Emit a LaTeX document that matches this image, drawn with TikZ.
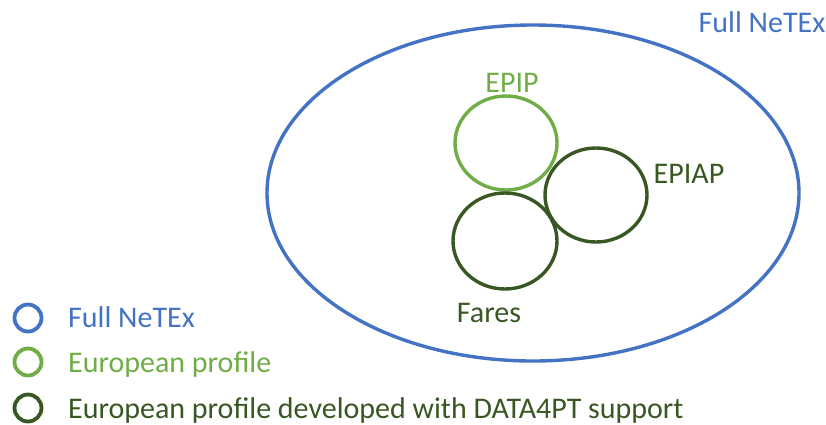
\documentclass[tikz,border=0pt]{standalone}
\usepackage{fontspec}
\setmainfont{Carlito}
\usepackage{xcolor}
\usetikzlibrary{positioning,shapes.geometric}
\definecolor{netexblue}{HTML}{4472C4}
\definecolor{eplight}{HTML}{70AD47}
\definecolor{epdark}{HTML}{385723}

\begin{document}
\begin{tikzpicture}[x=1pt, y=-1pt, font=\fontsize{30}{34}\selectfont,
 set/.style={draw, ellipse, line width=3.4pt, inner sep=0pt},
 key/.style={draw, circle, line width=3.8pt, minimum size=27pt, inner sep=0pt},
 lbl/.style={anchor=base, inner sep=0pt},
 keytext/.style={anchor=base west, inner sep=0pt}]
\useasboundingbox (0,0) rectangle (826,424);
% sets
\node[set, netexblue, minimum width=532pt, minimum height=336pt] (full) at (533,193) {};
\node[set, eplight, minimum width=102pt, minimum height=94pt] (epip) at (506,143) {};
\node[set, epdark, minimum width=104pt, minimum height=96pt] (fares) at (505,241) {};
\node[set, epdark, minimum width=102pt, minimum height=94pt] (epiap) at (596,195) {};
% set labels
\node[lbl, text=netexblue] (fulllbl) at (762,32) {Full NeTEx};
\node[lbl, text=eplight] (epiplbl) at (512,92) {EPIP};
\node[lbl, text=epdark] (epiaplbl) at (689,183) {EPIAP};
\node[lbl, text=epdark] (fareslbl) at (489,322) {Fares};
% legend
\node[key, netexblue] (key1) at (28,318) {};
\node[key, eplight] (key2) at (28,362) {};
\node[key, epdark] (key3) at (28,408) {};
\node[keytext, text=netexblue] (keytext1) at (68,327) {Full NeTEx};
\node[keytext, text=eplight] (keytext2) at (68,372) {European profile};
\node[keytext, text=epdark] (keytext3) at (68,418) {European profile developed with DATA4PT support};
\end{tikzpicture}
\end{document}
